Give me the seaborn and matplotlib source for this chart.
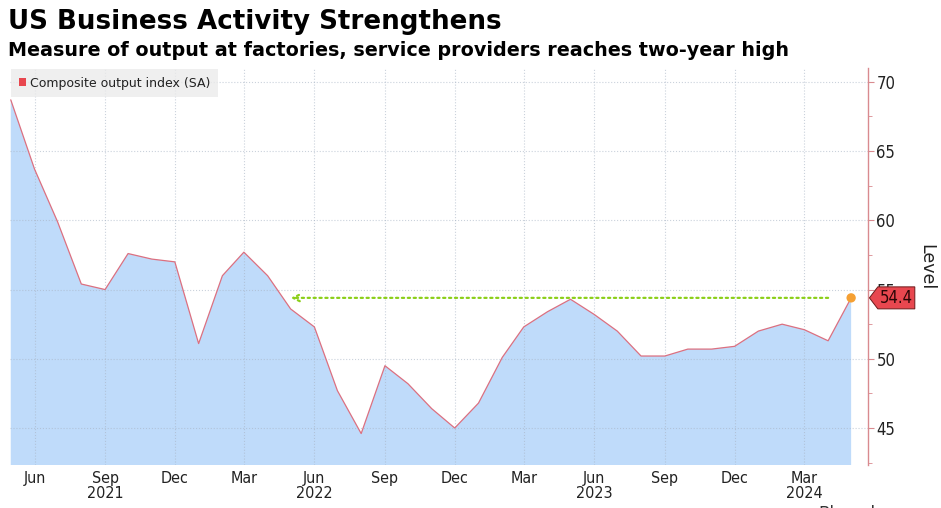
import matplotlib
matplotlib.use('Agg')
import matplotlib.pyplot as plt
import matplotlib.dates as mdates
from matplotlib.patches import Patch
from matplotlib.path import Path
from matplotlib.ticker import MultipleLocator, FixedLocator
import seaborn as sns
import pandas as pd

# ---- data ----
start_month = '2021-05-01'
end_month = '2024-05-01'
values = [68.7, 63.7, 59.9, 55.4, 55.0, 57.6, 57.2, 57.0,
          51.1, 56.0, 57.7, 56.0, 53.6, 52.3, 47.7, 44.6, 49.5, 48.2, 46.4, 45.0,
          46.8, 50.1, 52.3, 53.4, 54.3, 53.2, 52.0, 50.2, 50.2, 50.7, 50.7, 50.9,
          52.0, 52.5, 52.1, 51.3, 54.4]
tick_months = ['2021-06-01', '2021-09-01', '2021-12-01', '2022-03-01', '2022-06-01',
               '2022-09-01', '2022-12-01', '2023-03-01', '2023-06-01', '2023-09-01',
               '2023-12-01', '2024-03-01']
tick_labels = ['Jun', 'Sep\n2021', 'Dec', 'Mar', 'Jun\n2022', 'Sep', 'Dec', 'Mar',
               'Jun\n2023', 'Sep', 'Dec', 'Mar\n2024']
y_ticks = [45, 50, 55, 60, 65, 70]
arrow_from = '2024-04-01'
arrow_to = '2022-05-01'
last_label = '54.4'
series_name = 'Composite output index (SA)'

months = pd.date_range(start_month, end_month, freq='MS')
df = pd.DataFrame({'date': months, 'value': values})

sns.set_theme(style='white')
plt.rcParams['font.family'] = ['DejaVu Sans']

fig = plt.figure(figsize=(9.41, 5.08), dpi=100)
ax = fig.add_axes([10/941, 43/508, 858/941, 397/508])

fill_c = '#bfdbfa'
line_c = '#dc7080'
ax.fill_between(df['date'], df['value'], 0, color=fill_c, lw=0, zorder=0.2)
sns.lineplot(data=df, x='date', y='value', ax=ax, color=line_c, lw=0.9, zorder=2)

ax.set_xlim(pd.Timestamp('2021-04-30'), pd.Timestamp('2024-05-23'))
ax.set_ylim(42.33, 71.0)

ax.xaxis.set_major_locator(FixedLocator(mdates.date2num(pd.to_datetime(tick_months))))
ax.set_xticklabels(tick_labels, fontsize=11.5, color='#222222', linespacing=1.05,
                   fontstretch='condensed')
ax.tick_params(axis='x', length=0, pad=4)

ax.yaxis.tick_right()
ax.set_yticks(y_ticks)
ax.yaxis.set_minor_locator(MultipleLocator(2.5))
ax.tick_params(axis='y', which='major', length=4, width=0.8, color='#d98a8f',
               labelsize=12, labelcolor='#222222', pad=2, direction='out')
ax.tick_params(axis='y', which='minor', length=3, width=0.6, color='#d98a8f',
               direction='out', right=True)
for lab in ax.get_yticklabels():
    lab.set_fontstretch('condensed')
ax.set_ylabel('')
ax.set_xlabel('')

for s in ['left', 'top', 'bottom']:
    ax.spines[s].set_visible(False)
ax.spines['right'].set_color('#d98a8f')
ax.spines['right'].set_linewidth(1.0)

ax.set_axisbelow(True)
ax.grid(True, which='major', axis='both', color='#a8b4c4', alpha=0.6, ls=':', lw=0.8)

# two-year-high arrow
ax.annotate('', xy=(pd.Timestamp(arrow_to), values[-1]),
            xytext=(pd.Timestamp(arrow_from), values[-1]),
            arrowprops=dict(arrowstyle='->', color='#8ccf1a', lw=1.6, ls=':',
                            shrinkA=0, shrinkB=0, mutation_scale=12), zorder=4)

# last point
ax.scatter([df['date'].iloc[-1]], [values[-1]], s=45, color='#f5a033', zorder=5,
           edgecolor='none', clip_on=False)


# value tag: rectangle with a pointed left side
def tag_box(x0, y0, width, height, mutation_size):
    pad = mutation_size * 0.12
    x0 -= pad
    y0 -= pad
    x1 = x0 + width + 2 * pad
    y1 = y0 + height + 2 * pad
    tip = (y1 - y0) * 0.38
    ym = (y0 + y1) / 2
    verts = [(x0, y0), (x1, y0), (x1, y1), (x0, y1), (x0 - tip, ym), (x0, y0)]
    return Path(verts, [Path.MOVETO, Path.LINETO, Path.LINETO, Path.LINETO,
                        Path.LINETO, Path.CLOSEPOLY])


ax.annotate(last_label, xy=(1.0, values[-1]), xycoords=('axes fraction', 'data'),
            xytext=(8.5, 0), textcoords='offset points', ha='left', va='center',
            fontsize=12, color='#2a0606', zorder=10, annotation_clip=False,
            fontstretch='condensed',
            bbox=dict(boxstyle=tag_box, fc='#e8474f', ec='#6b1a1a', lw=0.7))

# legend
leg = ax.legend(handles=[Patch(facecolor='#e8474f', edgecolor='none', label=series_name)],
                loc='upper left', bbox_to_anchor=(0.0, 1.0), frameon=True,
                fancybox=False, borderaxespad=0.1, fontsize=9, handlelength=0.6,
                handleheight=0.6, handletextpad=0.3, borderpad=0.6)
leg.get_frame().set_facecolor('#ebebeb')
leg.get_frame().set_edgecolor('none')
for t in leg.get_texts():
    t.set_color('#222222')

# titles
fig.text(8/941, 1 - 22/508, 'US Business Activity Strengthens', fontsize=18.8,
         fontweight='bold', color='#000000', va='center', ha='left')
fig.text(8/941, 1 - 50/508,
         'Measure of output at factories, service providers reaches two-year high',
         fontsize=13.8, fontweight='bold', color='#000000', va='center', ha='left')
fig.text(926/941, 1 - 267/508, 'Level', rotation=270, fontsize=12.5, color='#222222',
         va='center', ha='center')
fig.text(818/941, 3/508, 'Bloomberg', fontsize=12, color='#333333', va='top', ha='left')

fig.savefig('out.png', dpi=100)
